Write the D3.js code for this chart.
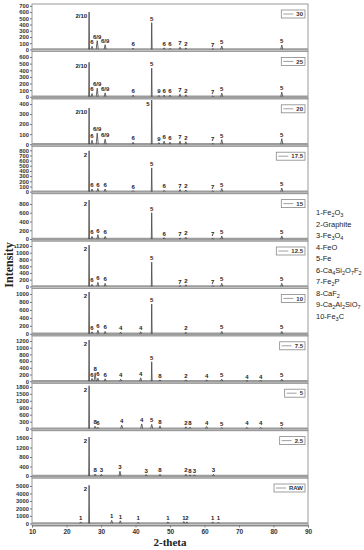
<!DOCTYPE html>
<html>
<head>
<meta charset="utf-8">
<script src="https://cdn.jsdelivr.net/npm/d3@7"></script>
<style>
  body { margin: 0; background: #fff; }
  text { font-family: "Liberation Sans", Arial, sans-serif; }
</style>
</head>
<body>
<svg width="364" height="550"></svg>
<script>
// sample names, top to bottom
const samples = ["30", "25", "20", "17.5", "15", "12.5", "10", "7.5", "5", "2.5", "RAW"];
// y axis: top of range, last labelled tick and tick step for each panel
const yMax = [730, 684, 452, 880, 1038, 1349, 1141, 1355, 1960, 1912, 6070];
const tickMax = [700, 600, 400, 800, 800, 1200, 1000, 1200, 1800, 1600, 5000];
const tickStep = [100, 100, 100, 100, 200, 200, 200, 200, 300, 400, 1000];
const xTicks = [10, 20, 30, 40, 50, 60, 70, 80, 90];

const phases = ["1-Fe2O3", "2-Graphite", "3-Fe3O4", "4-FeO", "5-Fe", "6-Ca4Si2O7F2",
  "7-Fe2P", "8-CaF2", "9-Ca2Al2SiO7", "10-Fe3C"];

// peaks: [2-theta, intensity, phase label]
const peaks = [
  [[26.55, 600, "2/10"], [27.4, 50, "6"], [28.9, 140, "6/9"], [31.2, 75, "6/9"], [39.3, 20, "6"],
   [44.7, 430, "5"], [48.3, 25, "6"], [50.0, 18, "6"], [52.9, 35, "7"], [54.6, 25, "2"],
   [62.4, 10, "7"], [65.0, 55, "5"], [82.4, 70, "5"]],
  [[26.55, 520, "2/10"], [27.4, 50, "6"], [28.9, 130, "6/9"], [31.2, 60, "6/9"], [39.3, 25, "6"],
   [44.7, 430, "5"], [46.8, 20, "9"], [48.3, 25, "6"], [50.0, 25, "6"], [52.9, 40, "7"],
   [54.6, 30, "2"], [62.4, 12, "7"], [65.0, 55, "5"], [82.4, 70, "5"]],
  [[26.55, 360, "2/10"], [27.4, 40, "6"], [28.9, 110, "6/9"], [31.2, 50, "6/9"], [39.3, 20, "6"],
   [44.7, 440, "5"], [46.8, 15, "9"], [48.3, 30, "6"], [50.0, 20, "6"], [52.9, 30, "7"],
   [54.6, 25, "2"], [62.4, 8, "7"], [65.0, 45, "5"], [82.4, 55, "5"]],
  [[26.55, 790, "2"], [27.4, 50, "6"], [29.1, 60, "6"], [31.2, 50, "6"], [39.3, 20, "6"],
   [44.7, 460, "5"], [48.3, 25, "6"], [52.9, 40, "7"], [54.6, 30, "2"], [62.4, 15, "7"],
   [65.0, 60, "5"], [82.4, 70, "5"]],
  [[26.55, 890, "2"], [27.4, 60, "6"], [29.1, 100, "6"], [31.2, 60, "6"], [44.7, 600, "5"],
   [48.3, 30, "6"], [52.9, 20, "7"], [54.6, 40, "2"], [62.4, 15, "7"], [65.0, 70, "5"],
   [82.4, 70, "5"]],
  [[26.55, 1230, "2"], [27.4, 60, "6"], [29.1, 120, "6"], [31.2, 90, "6"], [44.7, 720, "5"],
   [52.9, 25, "7"], [54.6, 50, "2"], [62.4, 20, "7"], [65.0, 90, "5"], [82.4, 90, "5"]],
  [[26.55, 1050, "2"], [27.4, 50, "6"], [29.1, 90, "6"], [31.2, 60, "6"], [35.7, 40, "4"],
   [41.5, 50, "4"], [44.7, 750, "5"], [54.6, 40, "2"], [65.0, 60, "5"], [82.4, 60, "5"]],
  [[26.55, 1230, "2"], [27.4, 80, "6"], [28.3, 250, "8"], [29.1, 90, "6"], [31.2, 70, "6"],
   [35.7, 60, "4"], [41.5, 100, "4"], [44.7, 580, "5"], [47.1, 40, "8"], [54.6, 40, "2"],
   [60.6, 40, "4"], [65.0, 60, "5"], [72.3, 20, "4"], [76.3, 20, "4"], [82.4, 60, "5"]],
  [[26.55, 1850, "2"], [28.3, 100, "8"], [29.1, 60, "6"], [36.0, 150, "4"], [41.8, 200, "4"],
   [44.7, 180, "5"], [47.1, 120, "8"], [54.6, 80, "2"], [55.8, 60, "8"], [60.6, 90, "4"],
   [65.0, 40, "5"], [72.3, 50, "4"], [76.3, 50, "4"], [82.4, 40, "5"]],
  [[26.55, 1640, "2"], [28.3, 80, "8"], [30.1, 70, "3"], [35.5, 200, "3"], [43.1, 60, "3"],
   [47.1, 70, "8"], [54.6, 70, "2"], [55.8, 50, "8"], [57.1, 50, "3"], [62.6, 70, "3"]],
  [[24.1, 200, "1"], [26.55, 5100, "2"], [33.1, 400, "1"], [35.6, 350, "1"], [40.8, 150, "1"],
   [49.4, 200, "1"], [54.0, 250, "1"], [54.9, 200, "2"], [62.4, 200, "1"], [64.0, 150, "1"]]
];

const svg = d3.select("svg");
const plotLeft = 32, plotRight = 308, plotTop = 4, plotBottom = 525.4;
const panelH = (plotBottom - plotTop) / samples.length;

const x = d3.scaleLinear().domain([10, 90]).range([plotLeft, plotRight]);

samples.forEach((name, i) => {
  const y0 = plotTop + i * panelH, y1 = y0 + panelH;
  const lo = -yMax[i] * 2 / (panelH - 2);
  const y = d3.scaleLinear().domain([lo, yMax[i]]).range([y1, y0]);
  const g = svg.append("g");

  // frame
  g.append("rect")
    .attr("x", plotLeft).attr("y", y0)
    .attr("width", plotRight - plotLeft).attr("height", panelH)
    .attr("fill", "none").attr("stroke", "#9a9a9a").attr("stroke-width", 1);

  // y axis
  const ticks = d3.range(0, tickMax[i] + 1, tickStep[i]);
  const axis = g.append("g")
    .attr("transform", "translate(" + plotLeft + ",0)")
    .call(d3.axisLeft(y).tickValues(ticks).tickSize(2).tickPadding(1).tickFormat(d3.format("d")));
  axis.select(".domain").remove();
  axis.selectAll("line").attr("stroke", "#777");
  axis.selectAll("text").attr("font-size", 5.8).attr("fill", "#333").attr("font-weight", "bold");

  // noisy baseline band
  g.append("line")
    .attr("x1", plotLeft).attr("x2", plotRight)
    .attr("y1", y(0)).attr("y2", y(0))
    .attr("stroke", "#9c9c9c").attr("stroke-width", 2.4);

  // peaks
  const line = d3.line().x(d => x(d[0])).y(d => y(d[1]));
  peaks[i].forEach(p => {
    const big = p[1] > tickMax[i] * 0.3;
    const w = big ? 0.12 : 0.3;
    g.append("path")
      .attr("d", line([[p[0] - w, 0], [p[0], p[1]], [p[0] + w, 0]]))
      .attr("fill", "none").attr("stroke", "#444").attr("stroke-width", 0.8);
    const ty = y(p[1]) - 2;
    const beside = ty < y0 + 10;
    g.append("text")
      .attr("x", beside ? x(p[0]) - 2 : x(p[0]))
      .attr("y", beside ? y(p[1]) + 6 : ty)
      .attr("text-anchor", beside ? "end" : "middle")
      .attr("font-size", 6).attr("font-weight", "bold").attr("fill", "#222")
      .text(p[2]);
  });

  // sample legend box
  const box = g.append("rect");
  const lab = g.append("text")
    .attr("x", plotRight - 5).attr("y", y0 + 12.2)
    .attr("text-anchor", "end")
    .attr("font-size", 6).attr("font-weight", "bold").attr("fill", "#333")
    .text(name);
  const tw = lab.node().getComputedTextLength();
  const bx = plotRight - 5 - tw - 15;
  box.attr("x", bx).attr("y", y0 + 6)
    .attr("width", plotRight - 3 - bx).attr("height", 8)
    .attr("fill", "#fff").attr("stroke", "#888").attr("stroke-width", 0.8);
  g.append("line")
    .attr("x1", bx + 2).attr("x2", bx + 12)
    .attr("y1", y0 + 10).attr("y2", y0 + 10)
    .attr("stroke", "#888").attr("stroke-width", 0.8);
});

// x axis
const xAxis = svg.append("g")
  .attr("transform", "translate(0," + plotBottom + ")")
  .call(d3.axisBottom(x).tickValues(xTicks).tickSize(2).tickPadding(1.5));
xAxis.select(".domain").attr("stroke", "#777");
xAxis.selectAll("line").attr("stroke", "#777");
xAxis.selectAll("text").attr("font-size", 6.5).attr("fill", "#333").attr("font-weight", "bold");

// axis titles
svg.append("text")
  .attr("x", 170).attr("y", 546)
  .attr("text-anchor", "middle")
  .style("font-family", "'Liberation Serif', 'DejaVu Serif', serif")
  .attr("font-size", 11).attr("font-weight", "bold").attr("fill", "#222")
  .text("2-theta");

svg.append("text")
  .attr("transform", "translate(13,265) rotate(-90)")
  .attr("text-anchor", "middle")
  .style("font-family", "'Liberation Serif', 'DejaVu Serif', serif")
  .attr("font-size", 12).attr("font-weight", "bold").attr("fill", "#222")
  .text("Intensity");

// phase legend, digits after the first dash become subscripts
phases.forEach((p, i) => {
  const t = svg.append("text")
    .attr("x", 316).attr("y", 215 + i * 11.5)
    .attr("font-size", 7.5).attr("fill", "#222");
  const dash = p.indexOf("-");
  t.append("tspan").text(p.slice(0, dash + 1));
  p.slice(dash + 1).split(/(\d+)/).forEach(part => {
    if (part === "") return;
    const sub = /^\d+$/.test(part);
    t.append("tspan")
      .attr("font-size", sub ? 5.5 : 7.5)
      .attr("baseline-shift", sub ? "-25%" : null)
      .text(part);
  });
});
</script>
</body>
</html>
